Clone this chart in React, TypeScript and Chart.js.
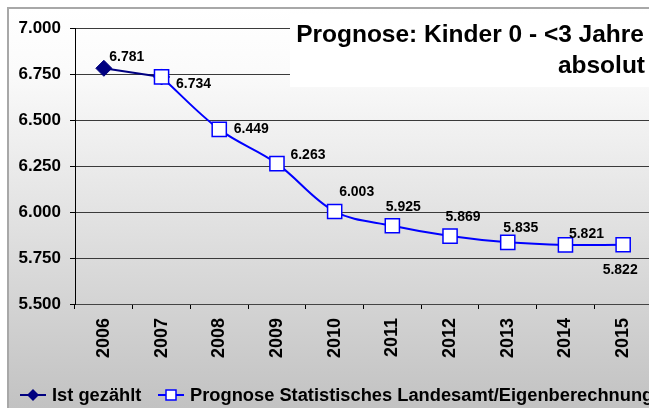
import React, { useEffect, useRef } from "react";
import { Chart, registerables } from "chart.js";

Chart.register(...registerables);

// ---- data ----
const years = ["2006", "2007", "2008", "2009", "2010", "2011", "2012", "2013", "2014", "2015"];
const istGezaehlt: (number | null)[] = [6781, 6734, null, null, null, null, null, null, null, null];
const prognose: (number | null)[] = [null, 6734, 6449, 6263, 6003, 5925, 5869, 5835, 5821, 5822];
const yMin = 5500;
const yMax = 7000;
const yStep = 250;
const titleLines = ["Prognose: Kinder 0 - <3 Jahre", "absolut"];
const legendLabels = ["Ist gezählt", "Prognose Statistisches Landesamt/Eigenberechnung"];

// ---- label placement (styling) ----
const istLabelOffsets: ([number, number] | null)[] = [[23, -11], null, null, null, null, null, null, null, null, null];
const prognoseLabelOffsets: ([number, number] | null)[] = [
  null, [32, 7], [32, 0], [31, -8], [22, -19], [11, -19], [13, -19], [13, -14], [21, -11], [-3, 25],
];

const FONT = "'Liberation Sans', Arial, sans-serif";
const NAVY = "#000080";
const BLUE = "#0000ff";

const fmt = (n: number) => String(Math.round(n)).replace(/\B(?=(\d{3})+(?!\d))/g, ".");

const backgroundPlugin = {
  id: "bgFrame",
  beforeDraw(chart: any) {
    const { ctx, width, height } = chart;
    ctx.save();
    const g = ctx.createLinearGradient(0, 8, 0, height);
    g.addColorStop(0, "#ffffff");
    g.addColorStop(0.15, "#fbfbfb");
    g.addColorStop(1, "#c2c2c2");
    ctx.fillStyle = g;
    ctx.fillRect(8, 8, width - 8, height - 8);
    ctx.strokeStyle = "#a8a8a8";
    ctx.lineWidth = 2;
    ctx.strokeRect(8, 8, width + 10, height + 10);
    ctx.restore();
  },
};

const titleBoxPlugin = {
  id: "titleBox",
  beforeDatasetsDraw(chart: any) {
    const { ctx, width } = chart;
    ctx.save();
    ctx.fillStyle = "#ffffff";
    ctx.fillRect(290, 14, width - 290, 73);
    ctx.fillStyle = "#000";
    ctx.font = `bold 24.5px ${FONT}`;
    ctx.textAlign = "right";
    ctx.textBaseline = "alphabetic";
    ctx.fillText(titleLines[0], 644, 42);
    ctx.fillText(titleLines[1], 645, 73);
    ctx.restore();
  },
};

const dataLabelPlugin = {
  id: "dataLabels",
  afterDatasetsDraw(chart: any) {
    const { ctx } = chart;
    ctx.save();
    ctx.fillStyle = "#000";
    ctx.font = `bold 14px ${FONT}`;
    ctx.textAlign = "center";
    ctx.textBaseline = "middle";
    chart.data.datasets.forEach((ds: any, di: number) => {
      const offsets = ds.labelOffsets as ([number, number] | null)[];
      const meta = chart.getDatasetMeta(di);
      meta.data.forEach((pt: any, i: number) => {
        const v = ds.data[i];
        const off = offsets[i];
        if (v == null || !off) return;
        ctx.fillText(fmt(v), pt.x + off[0], pt.y + off[1]);
      });
    });
    ctx.restore();
  },
};

const legendPlugin = {
  id: "customLegend",
  afterDraw(chart: any) {
    const { ctx } = chart;
    const y = 395;
    ctx.save();
    // item 1
    ctx.strokeStyle = NAVY;
    ctx.lineWidth = 2;
    ctx.beginPath();
    ctx.moveTo(20, y);
    ctx.lineTo(46, y);
    ctx.stroke();
    ctx.fillStyle = NAVY;
    ctx.beginPath();
    ctx.moveTo(33, y - 6);
    ctx.lineTo(39, y);
    ctx.lineTo(33, y + 6);
    ctx.lineTo(27, y);
    ctx.closePath();
    ctx.fill();
    // item 2
    ctx.strokeStyle = BLUE;
    ctx.beginPath();
    ctx.moveTo(158, y);
    ctx.lineTo(184, y);
    ctx.stroke();
    ctx.fillStyle = "#fff";
    ctx.fillRect(166, y - 5, 10, 10);
    ctx.lineWidth = 1.5;
    ctx.strokeRect(166, y - 5, 10, 10);
    ctx.fillStyle = "#000";
    ctx.font = `bold 18.3px ${FONT}`;
    ctx.textAlign = "left";
    ctx.textBaseline = "middle";
    ctx.fillText(legendLabels[0], 52, y + 1);
    ctx.fillText(legendLabels[1], 190, y + 1);
    ctx.restore();
  },
};

export default function App() {
  const ref = useRef<HTMLCanvasElement | null>(null);

  useEffect(() => {
    if (!ref.current) return;
    const chart = new Chart(ref.current, {
      type: "line",
      data: {
        labels: years,
        datasets: [
          {
            label: legendLabels[1],
            data: prognose,
            borderColor: BLUE,
            borderWidth: 2,
            tension: 0.35,
            pointStyle: "rect",
            pointRadius: 10,
            pointBackgroundColor: "#ffffff",
            pointBorderColor: BLUE,
            pointBorderWidth: 1.5,
            order: 0,
            labelOffsets: prognoseLabelOffsets,
          } as any,
          {
            label: legendLabels[0],
            data: istGezaehlt,
            borderColor: NAVY,
            borderWidth: 2,
            tension: 0,
            pointStyle: "rectRot",
            pointRadius: 8,
            pointBackgroundColor: NAVY,
            pointBorderColor: NAVY,
            pointBorderWidth: 1,
            order: 1,
            labelOffsets: istLabelOffsets,
          } as any,
        ],
      },
      options: {
        responsive: false,
        animation: false,
        devicePixelRatio: 1,
        layout: { padding: { top: 28, right: 28, bottom: 44, left: 0 } },
        plugins: {
          legend: { display: false },
          tooltip: { enabled: false },
          title: { display: false },
        },
        scales: {
          x: {
            offset: true,
            grid: {
              offset: true,
              drawOnChartArea: false,
              drawTicks: true,
              tickLength: 5,
              color: "#000",
              lineWidth: 1,
            },
            border: { color: "#444", width: 1 },
            ticks: {
              minRotation: 90,
              maxRotation: 90,
              padding: 9,
              color: "#000",
              font: { family: FONT, size: 18, weight: "bold" },
            },
            afterFit: (s: any) => {
              s.height = 60;
            },
          },
          y: {
            min: yMin,
            max: yMax,
            ticks: {
              stepSize: yStep,
              padding: 9,
              color: "#000",
              font: { family: FONT, size: 17, weight: "bold" },
              callback: (v: any) => fmt(Number(v)),
            },
            grid: { color: "#3a3a3a", lineWidth: 1, tickLength: 5, tickColor: "#000" },
            border: { color: "#000", width: 1 },
            afterFit: (s: any) => {
              s.width = 75;
            },
          },
        },
      } as any,
      plugins: [backgroundPlugin, titleBoxPlugin, dataLabelPlugin, legendPlugin],
    });
    return () => chart.destroy();
  }, []);

  return (
    <div style={{ position: "fixed", left: 0, top: 0, width: 649, height: 408, overflow: "hidden" }}>
      <canvas ref={ref} width={680} height={408} style={{ width: 680, height: 408, display: "block" }} />
    </div>
  );
}
